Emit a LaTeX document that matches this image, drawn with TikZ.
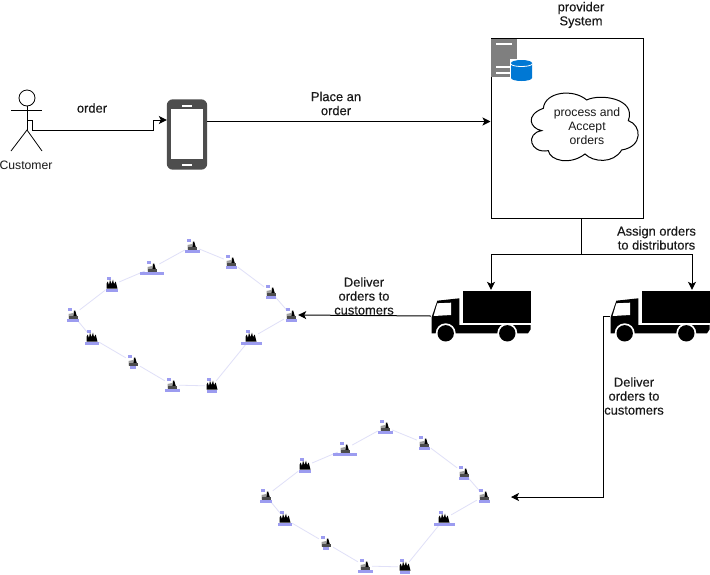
\documentclass[tikz,border=0pt]{standalone}
\usepackage{fontspec}
\setmainfont{Liberation Sans}
\newfontfamily\semibold[FakeBold=0.25]{Liberation Sans}
\usetikzlibrary{arrows.meta}
\definecolor{netblue}{HTML}{9C9CF0}
\definecolor{netedge}{HTML}{E0E0F8}
\definecolor{phonegray}{HTML}{4D4D4D}
\definecolor{servergray}{HTML}{7F7F7F}
\definecolor{dbblue}{HTML}{0078D4}
\tikzset{
  x=1pt,y=-1pt,
  wire/.style={draw=black,line width=1pt},
  flow/.style={wire,-{Stealth[length=8pt,width=8pt,inset=2pt]}},
  lbl/.style={font=\fontsize{12.2}{14}\selectfont,align=center,inner sep=0pt,text=black!90},
  blbl/.style={lbl,font=\fontsize{12.9}{14}\selectfont\semibold},
  anchorbox/.style={inner sep=0pt,minimum width=#1,minimum height=10pt},
  netline/.style={draw=netedge,line width=0.8pt},
  lightfac/.pic={
    \fill[netblue] (-5,-7) rectangle (-1,-4);
    \fill[gray!75] (-4.5,3.5) -- (-4.5,-1) -- (0,-2) -- (0,3.5) -- cycle;
    \fill[black] (0,3.5) -- (1,-4.5) -- (2.2,-4.5) -- (4.5,3.5) -- cycle;
    \fill[black!70] (-4.5,1) rectangle (4.5,3.5);
    \fill[netblue] (-#1/2,3.5) rectangle (#1/2,7);
  },
  darkfac/.pic={
    \fill[netblue] (-5,-8) rectangle (-1,-5);
    \fill[black] (-5.5,3.5) -- (-5.5,-1) -- (-4.3,-3.5) -- (-3,0) -- (-2,-5.5) -- (-0.5,-1) -- (1,-5.5) -- (2,-1) -- (3.7,-3.5) -- (5.5,3.5) -- cycle;
    \fill[netblue] (-#1/2,3.5) rectangle (#1/2,7);
  },
  truck/.pic={
    \fill[black] (32.3,0.7) rectangle (99.7,32.7);
    \fill[black] (0.7,43.3) -- (0.7,27) -- (6.3,10.7) -- (28.3,8.3) -- (28.3,35) -- (99.7,35) -- (99.7,39.3) -- (97,43.3) -- cycle;
    \fill[white] (6.3,13.3) -- (20,12.7) -- (20,25) -- (2.6,26) -- cycle;
    \fill[white] (14.7,43.3) circle (10);
    \fill[white] (76.3,43.3) circle (10);
    \fill[black] (14.7,43.3) circle (8.2);
    \fill[black] (76.3,43.3) circle (8.2);
  },
}
\newcommand{\factorynet}[3]{%
  \begin{scope}[shift={(#2,#3)}]
    \foreach \n/\px/\py in {a/192/246,b/152/268,c/112/285,d/73/315,e/92/338,f/133/362,g/172/385,h/212/386,i/251/338,j/291/315,k/271/292,l/231/262}
      \node[anchorbox=14pt] (#1\n) at (\px,\py) {};
    \foreach \u/\v in {a/b,b/c,c/d,d/e,e/f,f/g,g/h,h/i,i/j,j/k,k/l,l/a}
      \draw[netline] (#1\u) -- (#1\v);
    \foreach \n/\w in {a/15,b/24,d/12,f/6,g/15,j/11,k/10,l/11}
      \pic at (#1\n) {lightfac=\w};
    \foreach \n/\w in {c/12,e/14,h/10,i/21}
      \pic at (#1\n) {darkfac=\w};
  \end{scope}%
}
\begin{document}
\begin{tikzpicture}
\useasboundingbox (0,0) rectangle (710,574);
\fill[white] (0,0) rectangle (710,574);

% networks
\factorynet{A}{0}{0}
\factorynet{B}{193}{181}

% customer
\node[draw=black,line width=0.8pt,circle,minimum size=16pt,inner sep=0pt] (head) at (27,98) {};
\coordinate (hip) at (27,130);
\coordinate (chest) at (27,120);
\draw[line width=0.8pt] (head.south) -- (hip);
\draw[line width=0.8pt] (11,110) -- (42,110);
\draw[line width=0.8pt] (11,151) -- (hip) -- (42,151);
\node[lbl] (customer) at (26,165) {Customer};

% phone
\node[anchorbox=40pt,minimum height=70pt] (phone) at (187,134.5) {};
\fill[phonegray,rounded corners=6pt] (phone.south west) rectangle (phone.north east);
\fill[white] (170.5,109) rectangle (203,159);
\fill[white] (182,104.5) rectangle (192,106.5);
\fill[white] (182,163.5) rectangle (192,165.5);
\draw[flow] (chest) -- (32,120) -- (32,130) -- (153,130) -- (153,120) -- (phone.west |- 0,120);
\node[blbl] (orderlbl) at (92,108) {order};

% provider box
\node[draw=black,line width=1pt,minimum width=152pt,minimum height=180pt,inner sep=0pt] (system) at (567,128) {};
\draw[flow] (phone.east |- 0,121.5) -- (system.west |- 0,121.5);
\node[blbl] (placelbl) at (336,103.5) {Place an\\order};
\node[blbl] (provlbl) at (581,15) {provider\\System};

% server and database
\fill[servergray] (491,39) rectangle (517,77);
\draw[white,line width=1.2pt] (496,44) -- (512,44) (496,67) -- (510,67) (496,73) -- (510,73);
\fill[white] (509.5,59) rectangle (533.5,82);
\fill[dbblue] (511,63) -- (511,78) arc[start angle=180,end angle=0,x radius=10.5,y radius=3] -- (532,63) arc[start angle=0,end angle=-180,x radius=10.5,y radius=3] -- cycle;
\draw[white,line width=0.8pt] (511,64) arc[start angle=180,end angle=0,x radius=10.5,y radius=2.5];

% cloud
\begin{scope}[shift={(480,0)},x=0.3333pt,y=-0.3333pt]
\draw[black,line width=1pt,fill=white] (185,392)
  .. controls (150,385) and (135,345) .. (190,325)
  .. controls (195,275) and (280,265) .. (320,300)
  .. controls (360,280) and (470,295) .. (445,362)
  .. controls (485,375) and (490,440) .. (425,450)
  .. controls (400,492) and (340,487) .. (315,462)
  .. controls (270,497) and (210,482) .. (205,452)
  .. controls (150,462) and (135,400) .. (185,392) -- cycle;
\end{scope}
\node[lbl] (cloudlbl) at (587,126) {process and\\Accept\\orders};

% trucks
\node[anchorbox=100pt,minimum height=52pt] (truckA) at (481,316) {};
\node[anchorbox=100pt,minimum height=52pt] (truckB) at (660,316) {};
\pic at (431,290) {truck};
\pic at (610,290) {truck};

\coordinate (split) at (581,254);
\draw[wire] (system.south -| split) -- (split);
\draw[flow] (split) -- (491,254) -- (491,254 |- truckA.north);
\draw[flow] (split) -- (692,254) -- (692,254 |- truckB.north);
\node[blbl] (assignlbl) at (656.5,238) {Assign orders\\to distributors};

\draw[flow] (truckA.west) -- (Aj.east);
\node[blbl] (deliverA) at (364,296) {Deliver\\orders to\\customers};

\coordinate (endB) at (511,497);
\draw[flow] (truckB.west) -- (603,316) -- (603,497) -- (endB);
\node[blbl] (deliverB) at (634,396) {Deliver\\orders to\\customers};
\end{tikzpicture}
\end{document}
